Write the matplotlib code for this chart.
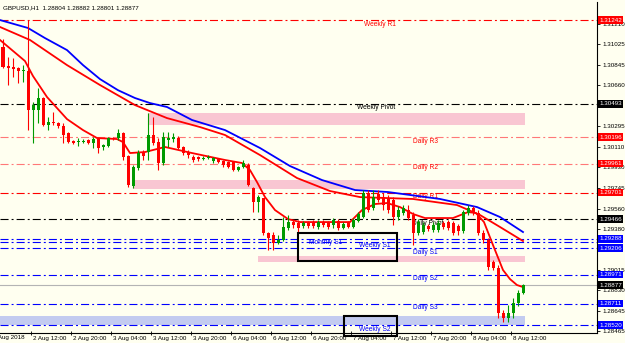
import matplotlib
matplotlib.use("Agg")
import matplotlib.pyplot as plt
from matplotlib.patches import Rectangle
from matplotlib.transforms import blended_transform_factory, offset_copy, ScaledTranslation

# ---------------- data ----------------
opens = [1.31001, 1.30832, 1.30823, 1.30814, 1.30787, 1.30787, 1.30439, 1.30439, 1.30546, 1.30305,
         1.30332, 1.30323, 1.30296, 1.30234, 1.30162, 1.30153, 1.30153, 1.30171, 1.30144, 1.30180,
         1.30109, 1.30118, 1.30189, 1.30189, 1.30234, 1.30028, 1.29761, 1.29921, 1.30055, 1.30064,
         1.30216, 1.30153, 1.29966, 1.30171, 1.30180, 1.30189, 1.30109, 1.30064, 1.30019, 1.30019,
         1.30002, 1.30010, 1.29984, 1.30002, 1.29984, 1.29975, 1.29975, 1.29903, 1.29930, 1.29948,
         1.29743, 1.29618, 1.29653, 1.29341, 1.29323, 1.29252, 1.29279, 1.29386, 1.29439, 1.29430,
         1.29404, 1.29430, 1.29439, 1.29395, 1.29439, 1.29430, 1.29412, 1.29448, 1.29386, 1.29430,
         1.29395, 1.29448, 1.29484, 1.29698, 1.29564, 1.29689, 1.29662, 1.29645, 1.29636, 1.29484,
         1.29520, 1.29546, 1.29502, 1.29341, 1.29350, 1.29404, 1.29368, 1.29368, 1.29430, 1.29439,
         1.29430, 1.29404, 1.29359, 1.29520, 1.29564, 1.29520, 1.29341, 1.29279, 1.29082, 1.29029,
         1.28627, 1.28582, 1.28627, 1.28716, 1.28804]
highs = [1.31072, 1.30912, 1.30903, 1.30823, 1.30840, 1.31242, 1.30510, 1.30635, 1.30555, 1.30376,
         1.30421, 1.30332, 1.30323, 1.30242, 1.30171, 1.30189, 1.30180, 1.30180, 1.30198, 1.30189,
         1.30135, 1.30198, 1.30198, 1.30269, 1.30242, 1.30037, 1.29948, 1.30082, 1.30082, 1.30412,
         1.30376, 1.30189, 1.30242, 1.30242, 1.30234, 1.30207, 1.30118, 1.30082, 1.30037, 1.30028,
         1.30028, 1.30037, 1.30019, 1.30010, 1.29993, 1.29984, 1.29984, 1.29939, 1.29993, 1.29966,
         1.29752, 1.29680, 1.29653, 1.29350, 1.29350, 1.29323, 1.29484, 1.29502, 1.29457, 1.29457,
         1.29448, 1.29448, 1.29457, 1.29457, 1.29457, 1.29448, 1.29475, 1.29466, 1.29439, 1.29448,
         1.29475, 1.29528, 1.29725, 1.29725, 1.29725, 1.29725, 1.29698, 1.29680, 1.29662, 1.29582,
         1.29591, 1.29591, 1.29528, 1.29466, 1.29439, 1.29421, 1.29439, 1.29457, 1.29448, 1.29457,
         1.29448, 1.29421, 1.29546, 1.29591, 1.29582, 1.29546, 1.29368, 1.29296, 1.29100, 1.29055,
         1.28654, 1.28698, 1.28761, 1.28832, 1.28882]
lows = [1.30814, 1.30662, 1.30733, 1.30680, 1.30689, 1.30260, 1.30144, 1.30323, 1.30296, 1.30260,
        1.30305, 1.30278, 1.30144, 1.30144, 1.30135, 1.30118, 1.30144, 1.30135, 1.30100, 1.30055,
        1.30082, 1.30109, 1.30171, 1.30171, 1.29993, 1.29752, 1.29743, 1.29903, 1.29993, 1.29993,
        1.30126, 1.29903, 1.29948, 1.30109, 1.30153, 1.30091, 1.30037, 1.30010, 1.29975, 1.29984,
        1.29993, 1.30002, 1.29966, 1.29966, 1.29930, 1.29921, 1.29894, 1.29894, 1.29921, 1.29761,
        1.29528, 1.29528, 1.29323, 1.29189, 1.29189, 1.29243, 1.29270, 1.29368, 1.29386, 1.29341,
        1.29386, 1.29386, 1.29386, 1.29377, 1.29395, 1.29377, 1.29386, 1.29368, 1.29377, 1.29386,
        1.29386, 1.29439, 1.29475, 1.29528, 1.29546, 1.29618, 1.29546, 1.29520, 1.29412, 1.29457,
        1.29502, 1.29457, 1.29234, 1.29323, 1.29332, 1.29359, 1.29350, 1.29350, 1.29377, 1.29368,
        1.29323, 1.29323, 1.29341, 1.29502, 1.29502, 1.29323, 1.29252, 1.29011, 1.29011, 1.28582,
        1.28547, 1.28547, 1.28582, 1.28690, 1.28801]
closes = [1.30823, 1.30814, 1.30805, 1.30787, 1.30796, 1.30439, 1.30483, 1.30546, 1.30305, 1.30332,
          1.30323, 1.30296, 1.30216, 1.30153, 1.30144, 1.30162, 1.30162, 1.30144, 1.30180, 1.30100,
          1.30126, 1.30189, 1.30180, 1.30234, 1.30019, 1.29769, 1.29930, 1.30055, 1.30028, 1.30216,
          1.30144, 1.29966, 1.30198, 1.30189, 1.30198, 1.30100, 1.30055, 1.30037, 1.29993, 1.30002,
          1.30010, 1.30019, 1.30010, 1.29975, 1.29948, 1.29930, 1.29903, 1.29930, 1.29966, 1.29769,
          1.29618, 1.29662, 1.29341, 1.29296, 1.29252, 1.29279, 1.29395, 1.29439, 1.29412, 1.29386,
          1.29430, 1.29404, 1.29404, 1.29439, 1.29412, 1.29395, 1.29457, 1.29386, 1.29421, 1.29395,
          1.29457, 1.29511, 1.29698, 1.29546, 1.29662, 1.29636, 1.29591, 1.29546, 1.29484, 1.29546,
          1.29564, 1.29475, 1.29341, 1.29439, 1.29412, 1.29377, 1.29412, 1.29430, 1.29395, 1.29386,
          1.29341, 1.29359, 1.29528, 1.29564, 1.29520, 1.29341, 1.29279, 1.29038, 1.29029, 1.28627,
          1.28582, 1.28627, 1.28716, 1.28806, 1.28877]

# moving averages (bar position, price) read at sample points
ma_fast_x = [-0.6, 4.4, 6, 8.8, 12.8, 16, 18.8, 22.8, 24, 25.4, 28.4, 32.4, 37.8, 44.4, 47.8, 49.4,
             50.8, 52.4, 54.4, 57, 59.4, 69.4, 71.8, 74.4, 76.8, 79.4, 82, 84.4, 90, 93, 94.6, 96.2,
             98, 100, 101.4, 102.8, 104]
ma_fast_y = [1.31064, 1.30876, 1.30742, 1.30555, 1.30358, 1.30260, 1.30189, 1.30180, 1.30153, 1.30055,
             1.30064, 1.30109, 1.30055, 1.29993, 1.29966, 1.29903, 1.29796, 1.29662, 1.29546, 1.29466,
             1.29439, 1.29439, 1.29546, 1.29600, 1.29609, 1.29573, 1.29511, 1.29475, 1.29475, 1.29528,
             1.29520, 1.29439, 1.29234, 1.29011, 1.28930, 1.28877, 1.28859]
ma_slow_x = [-0.6, 5.4, 12.8, 19.4, 26.4, 32.8, 39.4, 44.4, 51.4, 58.8, 65.4, 71.4, 82, 90.8, 95.4,
             99.4, 104]
ma_slow_y = [1.31180, 1.31064, 1.30840, 1.30662, 1.30483, 1.30367, 1.30287, 1.30216, 1.30037, 1.29832,
             1.29716, 1.29662, 1.29645, 1.29591, 1.29502, 1.29395, 1.29270]
ma_blue_x = [-0.6, 5, 8.4, 12.8, 16, 19.4, 23, 26.4, 29.4, 32.8, 37.8, 44.4, 51.4, 57.4, 63.8, 70.4,
             77, 87.4, 94.8, 99.4, 104]
ma_blue_y = [1.31242, 1.31171, 1.31081, 1.30974, 1.30840, 1.30715, 1.30616, 1.30546, 1.30501, 1.30466,
             1.30350, 1.30260, 1.30100, 1.29939, 1.29814, 1.29725, 1.29707, 1.29645, 1.29573, 1.29484,
             1.29350]

# pivot levels
level_names = ["Weekly R1", "Weekly Pivot", "Daily R3", "Daily R2", "Daily R1", "Daily Pivot",
               "Monthly S1", "Weekly S1", "Daily S1", "Daily S2", "Daily S3", "Weekly S2"]
level_values = [1.31242, 1.30493, 1.30196, 1.29961, 1.29701, 1.29466,
                1.29288, 1.29262, 1.29206, 1.28971, 1.28711, 1.28520]
level_kind = ["r", "k", "lr", "lr", "r", "k", "b", "b", "b", "b", "b", "b"]
level_label_bar = [75.4, 74.6, 84.4, 84.4, 84.4, 85, 64.6, 74.4, 84.4, 84.4, 84.4, 74.4]

# supply / demand zones
zone_lo = [1.30305, 1.29734, 1.29082, 1.28520]
zone_hi = [1.30412, 1.29814, 1.29136, 1.28600]
zone_start = [29, 26, 51, -0.6]
zone_end = [104.4, 104.4, 104.4, 104.4]
zone_kind = ["pink", "pink", "pink", "blue"]

# highlighted boxes (bar range, price range)
box_x0 = [59, 68.2]
box_x1 = [78.8, 78.8]
box_lo = [1.29091, 1.28422]
box_hi = [1.29341, 1.28600]

# right-axis scale (labels hidden under price boxes in the original are left blank)
price_ticks = [1.31210, 1.31025, 1.30845, 1.30660, 1.30475, 1.30295, 1.30110, 1.29930, 1.29745,
               1.29560, 1.29380, 1.29195, 1.29015, 1.28830, 1.28645, 1.28465]
hidden_ticks = [1.30475, 1.29195]
current_price = 1.28877

# time axis
time_labels = ["2 Aug 2018", "2 Aug 12:00", "2 Aug 20:00", "3 Aug 04:00", "3 Aug 12:00",
               "3 Aug 20:00", "6 Aug 04:00", "6 Aug 12:00", "6 Aug 20:00", "7 Aug 04:00",
               "7 Aug 12:00", "7 Aug 20:00", "8 Aug 04:00", "8 Aug 12:00"]
title = "GBPUSD,H1  1.28804 1.28882 1.28801 1.28877"

# ---------------- style ----------------
plt.rcParams['font.family'] = ['Liberation Sans', 'DejaVu Sans']
plt.rcParams['lines.scale_dashes'] = False

BG = '#FFFFF0'
UP = '#009A00'
DN = '#FF0000'
COL = {"r": "#FF0000", "k": "#000000", "lr": "#FF7878", "b": "#0000FF"}
BOXCOL = {"r": "#FF0000", "k": "#000000", "lr": "#FF0000", "b": "#0000FF"}
TCOL = {"r": "#FF0000", "k": "#000000", "lr": "#FF0000", "b": "#0000FF"}
ZCOL = {"pink": "#F9C6D2", "blue": "#C3CBF0"}
DASHDOT = (0, (5.8, 2.2, 1.4, 2.2))

W, H = 625, 343
fig = plt.figure(figsize=(W / 100, H / 100), dpi=100, facecolor=BG)
ax = fig.add_axes([0, 10 / H, 597 / W, 331 / H])
ax.set_facecolor(BG)
ax.set_xlim(-0.6, 118.8)
ax.set_ylim(1.28449, 1.31403)

for s in ['left', 'top']:
    ax.spines[s].set_visible(False)
for s in ['right', 'bottom']:
    ax.spines[s].set_linewidth(0.8)
    ax.spines[s].set_color('black')

# zones
for lo, hi, x0, x1, kind in zip(zone_lo, zone_hi, zone_start, zone_end, zone_kind):
    ax.add_patch(Rectangle((x0, lo), x1 - x0, hi - lo, facecolor=ZCOL[kind],
                           edgecolor='none', zorder=1))

# current price line
ax.axhline(current_price, color='#B4B4B4', lw=0.8, zorder=1.5)

# pivot lines + labels
lab_tr = offset_copy(ax.transData, fig=fig, x=0, y=-4, units='dots')
for name, val, kind, bx in zip(level_names, level_values, level_kind, level_label_bar):
    ax.axhline(val, color=COL[kind], lw=0.8, ls=DASHDOT, zorder=2)
    ax.text(bx, val, name, transform=lab_tr, ha='center', va='center',
            fontsize=4.8, color=TCOL[kind], zorder=2.5)

# moving averages
ax.plot(ma_blue_x, ma_blue_y, color='#0000FF', lw=1.3, zorder=3)
ax.plot(ma_slow_x, ma_slow_y, color='#FF0000', lw=1.3, zorder=3)
ax.plot(ma_fast_x, ma_fast_y, color='#FF0000', lw=1.3, zorder=3.2)

# candles
xs = list(range(len(opens)))
cols = [UP if c >= o else DN for o, c in zip(opens, closes)]
ax.vlines(xs, lows, highs, colors=cols, lw=0.8, zorder=4)
bottoms = [min(o, c) for o, c in zip(opens, closes)]
heights = [max(abs(c - o), 0.00009) for o, c in zip(opens, closes)]
ax.bar(xs, heights, bottom=bottoms, width=0.6, color=cols, linewidth=0, zorder=5)

# black boxes
for x0, x1, lo, hi in zip(box_x0, box_x1, box_lo, box_hi):
    ax.add_patch(Rectangle((x0, lo), x1 - x0, hi - lo, fill=False, edgecolor='black',
                           lw=1.5, zorder=6, clip_on=False))

# right price scale
ax.yaxis.tick_right()
ax.set_yticks(price_ticks)
ax.set_yticklabels(["" if v in hidden_ticks else f"{v:.5f}" for v in price_ticks])
ax.tick_params(axis='y', length=2.5, width=0.6, pad=1.5, labelsize=4.5, colors='black')

trans = blended_transform_factory(ax.transAxes, ax.transData)
for v, k, name in zip(level_values, level_kind, level_names):
    if name == "Weekly S1":
        continue
    ax.text(1.0 + 2 / 597, v, f"{v:.5f}", transform=trans, ha='left', va='center',
            fontsize=4.5, color='white', clip_on=False, zorder=10,
            bbox=dict(boxstyle='square,pad=0.2', fc=BOXCOL[k], ec='none'))
ax.text(1.0 + 2 / 597, current_price, f"{current_price:.5f}", transform=trans, ha='left',
        va='center', fontsize=4.5, color='white', clip_on=False, zorder=10,
        bbox=dict(boxstyle='square,pad=0.2', fc='black', ec='none'))

# time axis
tick_pos = [-2.4 + 8 * i for i in range(len(time_labels))]
ax.set_xticks(tick_pos[1:])
ax.set_xticklabels(time_labels[1:])
ax.tick_params(axis='x', length=3, width=0.6, pad=0.5, labelsize=4.5, direction='inout')
for lab in ax.get_xticklabels():
    lab.set_horizontalalignment('left')
    lab.set_transform(lab.get_transform() + ScaledTranslation(2 / 100, 0, fig.dpi_scale_trans))
xtr = blended_transform_factory(ax.transData, ax.transAxes)
ax.text(tick_pos[0], 0, time_labels[0],
        transform=xtr + ScaledTranslation(2 / 100, -2.5 / 100, fig.dpi_scale_trans),
        ha='left', va='top', fontsize=4.5, clip_on=False)

# title
fig.text(3 / W, 1 - 8 / H, title, fontsize=4.5, va='center', ha='left', color='black')

fig.savefig("out.png", dpi=100, facecolor=BG)
